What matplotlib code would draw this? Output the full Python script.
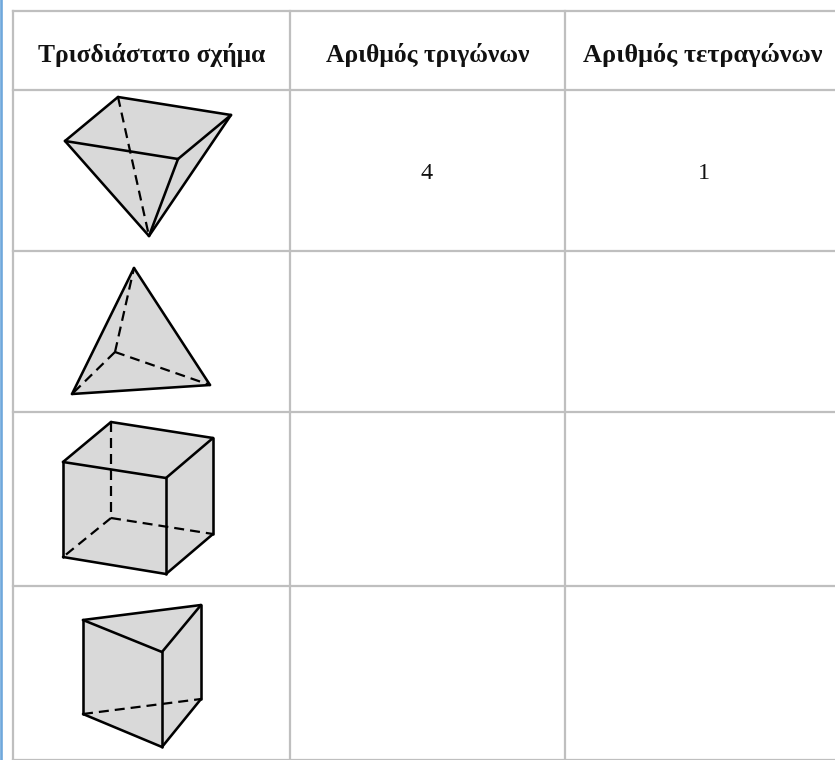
import matplotlib
matplotlib.use("Agg")
import matplotlib.pyplot as plt
from matplotlib.patches import Polygon

# table
encabezados = ["Τρισδιάστατο σχήμα", "Αριθμός τριγώνων", "Αριθμός τετραγώνων"]
lineas_x = [13, 289.5, 565]
lineas_y = [10.5, 90, 250.5, 411.5, 586, 759.5]
centros_x = [151.5, 428, 702.5]
num_triangulos = "4"
num_cuadrados = "1"

# shapes, vertices
piramide = {"A": (118, 97), "B": (231, 115), "C": (178, 159), "D": (65, 141), "E": (149, 236)}
piramide_borde = ["A", "B", "E", "D"]
piramide_solidas = ["AB", "BC", "CD", "DA", "DE", "EC", "EB"]
piramide_rayas = ["AE"]

tetraedro = {"T": (134, 268), "L": (72, 394), "R": (210, 385), "B": (115, 352)}
tetraedro_borde = ["T", "R", "L"]
tetraedro_solidas = ["TL", "TR", "LR"]
tetraedro_rayas = ["BT", "BL", "BR"]

cubo = {"A": (63, 462), "B": (166, 478), "C": (213, 438), "D": (111, 422),
        "E": (63, 557), "F": (166, 574), "G": (213, 534), "H": (111, 518)}
cubo_borde = ["D", "C", "G", "F", "E", "A"]
cubo_solidas = ["AB", "BC", "CD", "DA", "EF", "FG", "AE", "BF", "CG"]
cubo_rayas = ["DH", "HE", "HG"]

prisma = {"A": (83, 620), "B": (201, 605), "C": (162, 652),
          "D": (83, 714), "E": (201, 699), "F": (162, 747)}
prisma_borde = ["A", "B", "E", "F", "D"]
prisma_solidas = ["AB", "BC", "CA", "AD", "BE", "CF", "DF", "FE"]
prisma_rayas = ["DE"]

GRIS_LINEA = "#bfbfbf"
GRIS_CARA = "#d9d9d9"
AZUL = "#6fa8dc"

plt.rcParams["font.family"] = ["Liberation Serif", "DejaVu Serif"]

fig = plt.figure(figsize=(8.35, 7.6), dpi=100)
ax = fig.add_axes([0, 0, 1, 1])
ax.set_xlim(0, 835)
ax.set_ylim(760, 0)
ax.axis("off")


def dibujar_forma(vertices, borde, solidas, rayas):
    ax.add_patch(Polygon([vertices[v] for v in borde], closed=True, fc=GRIS_CARA, ec="none", zorder=2))
    for par in rayas:
        xs = [vertices[par[0]][0], vertices[par[1]][0]]
        ys = [vertices[par[0]][1], vertices[par[1]][1]]
        ax.plot(xs, ys, color="black", lw=1.6, dashes=(4.5, 2.7), zorder=3)
    for par in solidas:
        xs = [vertices[par[0]][0], vertices[par[1]][0]]
        ys = [vertices[par[0]][1], vertices[par[1]][1]]
        ax.plot(xs, ys, color="black", lw=1.85, solid_capstyle="round", zorder=4)


# left blue border of the page
ax.plot([1.3, 1.3], [0, 760], color=AZUL, lw=1.9, zorder=1)

for x in lineas_x:
    ax.plot([x, x], [lineas_y[0], lineas_y[-1]], color=GRIS_LINEA, lw=1.6, zorder=1)
for y in lineas_y:
    ax.plot([lineas_x[0], 835], [y, y], color=GRIS_LINEA, lw=1.6, zorder=1)

for x, texto, tam in zip(centros_x, encabezados, [18.4, 18.4, 18.9]):
    ax.text(x, 55, texto, ha="center", va="center", fontsize=tam, fontweight="bold", color="#111111")

ax.text(427, 173.5, num_triangulos, ha="center", va="center", fontsize=17.5, color="#111111")
ax.text(703.5, 173.5, num_cuadrados, ha="center", va="center", fontsize=17.5, color="#111111")

dibujar_forma(piramide, piramide_borde, piramide_solidas, piramide_rayas)
dibujar_forma(tetraedro, tetraedro_borde, tetraedro_solidas, tetraedro_rayas)
dibujar_forma(cubo, cubo_borde, cubo_solidas, cubo_rayas)
dibujar_forma(prisma, prisma_borde, prisma_solidas, prisma_rayas)

fig.savefig("out.png", dpi=100)
